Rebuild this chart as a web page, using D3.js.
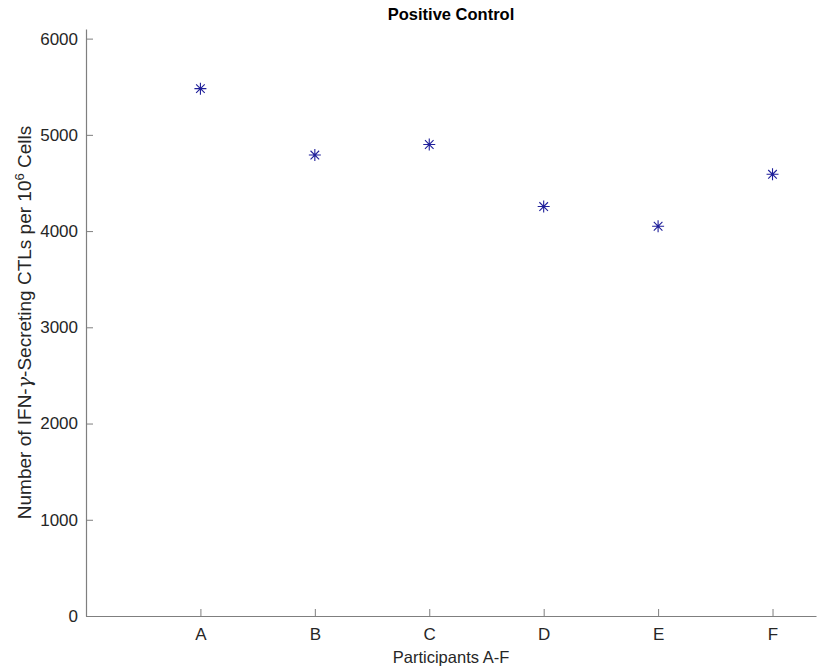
<!DOCTYPE html>
<html>
<head>
<meta charset="utf-8">
<script src="https://cdn.jsdelivr.net/npm/d3@7"></script>
<style>
  body { margin: 0; background: #fff; }
  text { font-family: "Liberation Sans", Arial, sans-serif; }
</style>
</head>
<body>
<div id="chart"></div>
<script>
// 数据
var participants = ["A", "B", "C", "D", "E", "F"];
var counts = [5480, 4790, 4900, 4255, 4050, 4590];
var yTicks = [0, 1000, 2000, 3000, 4000, 5000, 6000];

var width = 819, height = 671;
var m = {left: 86, right: 816, top: 29, bottom: 616};

var svg = d3.select("#chart").append("svg")
    .attr("width", width)
    .attr("height", height);

var x = d3.scaleLinear().domain([0, 6.38]).range([m.left, m.right]);
var y = d3.scaleLinear().domain([0, 6100]).range([m.bottom, m.top]);

var axisColor = "#7f7f7f", textColor = "#262626";

// x 轴
var xAxis = svg.append("g")
    .attr("transform", "translate(0," + m.bottom + ")")
    .call(d3.axisBottom(x)
        .tickValues(d3.range(1, participants.length + 1))
        .tickFormat(function (d) { return participants[d - 1]; })
        .tickSizeInner(-7).tickSizeOuter(0).tickPadding(12));

// y 轴
var yAxis = svg.append("g")
    .attr("transform", "translate(" + m.left + ",0)")
    .call(d3.axisLeft(y)
        .tickValues(yTicks)
        .tickFormat(d3.format("d"))
        .tickSizeInner(-7).tickSizeOuter(0).tickPadding(8));

[xAxis, yAxis].forEach(function (g) {
    g.select(".domain").attr("stroke", axisColor).attr("stroke-width", 1.2);
    g.selectAll(".tick line").attr("stroke", axisColor);
    g.selectAll(".tick text").attr("fill", textColor)
        .style("font-family", "'Liberation Sans', Arial, sans-serif")
        .style("font-size", "17px");
});

// 星形标记
var star = "M-6,0L6,0M0,-6L0,6M-4.3,-4.3L4.3,4.3M-4.3,4.3L4.3,-4.3";
svg.append("g").selectAll("path")
    .data(counts)
    .enter().append("path")
    .attr("d", star)
    .attr("transform", function (d, i) { return "translate(" + x(i + 1) + "," + y(d) + ")"; })
    .attr("stroke", "#1f1f9a")
    .attr("stroke-width", 1.1)
    .attr("fill", "none");

// 标题
svg.append("text")
    .attr("x", (m.left + m.right) / 2)
    .attr("y", 20)
    .attr("text-anchor", "middle")
    .attr("font-weight", "bold")
    .attr("fill", "#000")
    .style("font-size", "16.5px")
    .text("Positive Control");

svg.append("text")
    .attr("x", (m.left + m.right) / 2)
    .attr("y", 663)
    .attr("text-anchor", "middle")
    .attr("fill", textColor)
    .style("font-size", "16.5px")
    .text("Participants A-F");

var ylab = svg.append("text")
    .attr("transform", "translate(31," + ((m.top + m.bottom) / 2) + ") rotate(-90)")
    .attr("text-anchor", "middle")
    .attr("fill", textColor)
    .style("font-size", "19px");
ylab.append("tspan").text("Number of IFN-");
ylab.append("tspan").attr("font-family", "DejaVu Serif").attr("font-style", "italic").text("γ");
ylab.append("tspan").text("-Secreting CTLs per 10");
ylab.append("tspan").attr("dy", -7).style("font-size", "13px").text("6");
ylab.append("tspan").attr("dy", 7).text(" Cells");
</script>
</body>
</html>
